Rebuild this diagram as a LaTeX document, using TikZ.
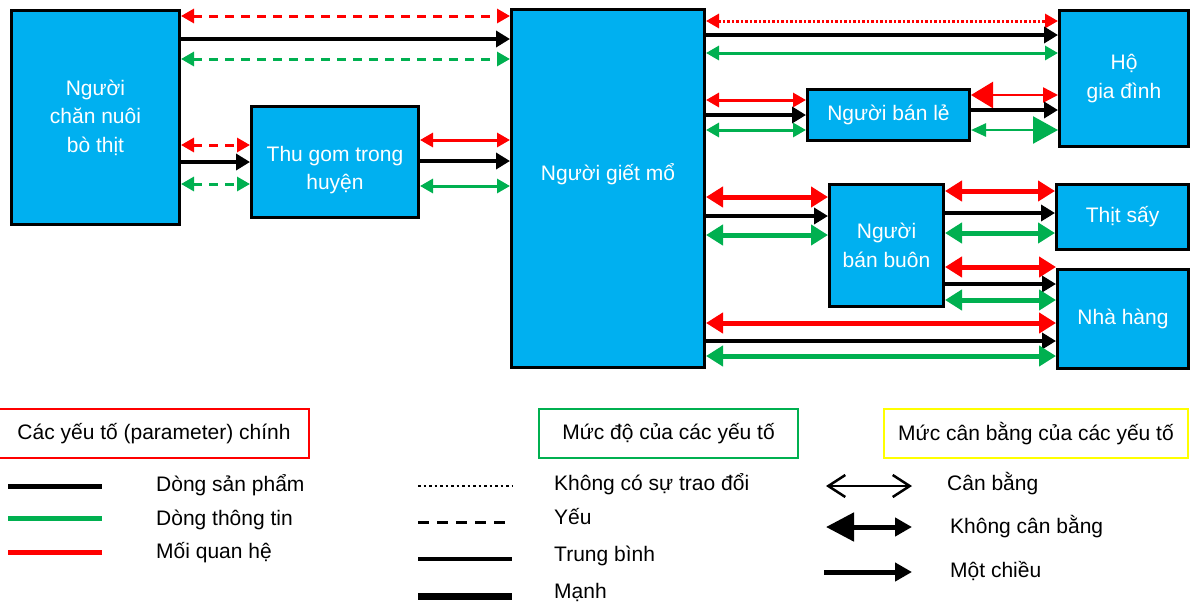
\documentclass[tikz,border=0pt]{standalone}
\usepackage{fontspec}
\setmainfont{Liberation Sans}
\usetikzlibrary{arrows.meta}
\definecolor{boxblue}{HTML}{00B0F0}
\definecolor{relred}{HTML}{FF0000}
\definecolor{infogreen}{HTML}{00B050}
\definecolor{keyyellow}{HTML}{FFFF00}

\begin{document}
\begin{tikzpicture}[x=1pt,y=-1pt,font=\fontsize{21}{28.5}\selectfont,
  actor/.style={draw=black,line width=3pt,fill=boxblue,text=white,align=center,inner sep=0pt},
  boxtext/.style={text=white,align=center},
  keybox/.style={draw,line width=2pt,minimum height=49pt,inner sep=0pt},
  keytext/.style={anchor=base west,inner sep=0pt},
  rel/.style={relred,line width=3pt,>={Triangle[length=13pt,width=14pt]}},
  info/.style={infogreen,line width=3pt,>={Triangle[length=13pt,width=14pt]}},
  prod/.style={black,line width=3.5pt,>={Triangle[length=14pt,width=16pt]},->},
  weak/.style={dash pattern=on 9pt off 7pt},
  nolink/.style={dash pattern=on 2.5pt off 2pt},
  strong/.style={line width=5pt,>={Triangle[length=17pt,width=20pt]}}]
\useasboundingbox (0,0) rectangle (1194,603);
\node[actor,minimum width=168pt,minimum height=214pt] (farmer) at (95.5,117.5) {Người\\chăn nuôi\\bò thịt};
\node[actor,minimum width=167pt,minimum height=111pt,label={[boxtext,yshift=-8pt]center:Thu gom trong\\huyện}] (collect) at (335,162) {};
\node[actor,minimum width=193pt,minimum height=358pt,label={[boxtext,yshift=14pt]center:Người giết mổ}] (slaughter) at (608,188.5) {};
\node[actor,minimum width=162pt,minimum height=51pt] (retail) at (888.5,115) {Người bán lẻ};
\node[actor,minimum width=114pt,minimum height=122pt] (wholesale) at (886.5,245.5) {Người\\bán buôn};
\node[actor,minimum width=129pt,minimum height=136pt] (household) at (1124,78.5) {Hộ\\gia đình};
\node[actor,minimum width=132pt,minimum height=65pt] (dried) at (1122.5,217) {Thịt sấy};
\node[actor,minimum width=131pt,minimum height=99pt] (restaurant) at (1123,319) {Nhà hàng};
\draw[rel,weak,<->] (farmer.east |- 0,16) -- (slaughter.west |- 0,16);
\draw[prod] (farmer.east |- 0,39) -- (slaughter.west |- 0,39);
\draw[info,weak,<->] (farmer.east |- 0,59) -- (slaughter.west |- 0,59);
\draw[rel,weak,<->] (farmer.east |- 0,145) -- (collect.west |- 0,145);
\draw[prod] (farmer.east |- 0,162) -- (collect.west |- 0,162);
\draw[info,weak,<->] (farmer.east |- 0,184) -- (collect.west |- 0,184);
\draw[rel,<->] (collect.east |- 0,140) -- (slaughter.west |- 0,140);
\draw[prod] (collect.east |- 0,161) -- (slaughter.west |- 0,161);
\draw[info,<->] (collect.east |- 0,186) -- (slaughter.west |- 0,186);
\draw[rel,nolink,<->] (slaughter.east |- 0,21) -- (household.west |- 0,21);
\draw[prod] (slaughter.east |- 0,35) -- (household.west |- 0,35);
\draw[info,<->] (slaughter.east |- 0,53) -- (household.west |- 0,53);
\draw[rel,<->] (slaughter.east |- 0,100) -- (retail.west |- 0,100);
\draw[prod] (slaughter.east |- 0,115) -- (retail.west |- 0,115);
\draw[info,<->] (slaughter.east |- 0,130) -- (retail.west |- 0,130);
\draw[rel,line width=2.5pt,{Triangle[length=22pt,width=26pt]}-{Triangle[length=15pt,width=15pt]}] (retail.east |- 0,95) -- (household.west |- 0,95);
\draw[prod] (retail.east |- 0,110) -- (household.west |- 0,110);
\draw[info,line width=2.5pt,{Triangle[length=15pt,width=13pt]}-{Triangle[length=25pt,width=27pt]}] (retail.east |- 0,130) -- (household.west |- 0,130);
\draw[rel,strong,<->] (slaughter.east |- 0,197) -- (wholesale.west |- 0,197);
\draw[prod] (slaughter.east |- 0,216) -- (wholesale.west |- 0,216);
\draw[info,strong,<->] (slaughter.east |- 0,235) -- (wholesale.west |- 0,235);
\draw[rel,strong,<->] (wholesale.east |- 0,191) -- (dried.west |- 0,191);
\draw[prod] (wholesale.east |- 0,213) -- (dried.west |- 0,213);
\draw[info,strong,<->] (wholesale.east |- 0,233) -- (dried.west |- 0,233);
\draw[rel,strong,<->] (wholesale.east |- 0,267) -- (restaurant.west |- 0,267);
\draw[prod] (wholesale.east |- 0,284) -- (restaurant.west |- 0,284);
\draw[info,strong,<->] (wholesale.east |- 0,300) -- (restaurant.west |- 0,300);
\draw[rel,strong,<->] (slaughter.east |- 0,323) -- (restaurant.west |- 0,323);
\draw[prod] (slaughter.east |- 0,341) -- (restaurant.west |- 0,341);
\draw[info,strong,<->] (slaughter.east |- 0,356) -- (restaurant.west |- 0,356);
\node[keybox,draw=relred,minimum width=310pt] (keypar) at (154,433.5) {Các yếu tố (parameter) chính};
\node[keybox,draw=infogreen,minimum width=259pt] (keylevel) at (668.5,433.5) {Mức độ của các yếu tố};
\node[keybox,draw=keyyellow,minimum width=304pt] (keybal) at (1036,433.5) {Mức cân bằng của các yếu tố};
\draw[black,line width=5pt] (8,486) -- (102,486);
\draw[infogreen,line width=5pt] (8,518) -- (102,518);
\draw[relred,line width=5pt] (8,552) -- (102,552);
\node[keytext] (txtprod) at (156,491) {Dòng sản phẩm};
\node[keytext] (txtinfo) at (156,525.7) {Dòng thông tin};
\node[keytext] (txtrel) at (156,558) {Mối quan hệ};
\draw[line width=2.5pt,dash pattern=on 2.5pt off 3pt] (418,486) -- (512,486);
\draw[line width=3pt,dash pattern=on 11pt off 8pt] (418,522) -- (512,522);
\draw[line width=3.5pt] (418,559) -- (512,559);
\draw[line width=7pt] (418,596) -- (512,596);
\node[keytext] (txtnone) at (554,490) {Không có sự trao đổi};
\node[keytext] (txtweak) at (554,524) {Yếu};
\node[keytext] (txtmid) at (554,561.7) {Trung bình};
\node[keytext] (txtstrong) at (554,598) {Mạnh};
\draw[line width=2.5pt,{Straight Barb[length=17pt,width=22pt]}-{Straight Barb[length=17pt,width=22pt]}] (826,486) -- (912,486);
\draw[line width=5pt,{Triangle[length=28pt,width=28pt]}-{Triangle[length=17pt,width=18pt]}] (826,527) -- (912,527);
\draw[line width=5pt,-{Triangle[length=17pt,width=18pt]}] (824,572) -- (912,572);
\node[keytext] (txtbal) at (947,490.7) {Cân bằng};
\node[keytext] (txtunbal) at (950,533) {Không cân bằng};
\node[keytext] (txtone) at (950,577.7) {Một chiều};
\end{tikzpicture}
\end{document}
